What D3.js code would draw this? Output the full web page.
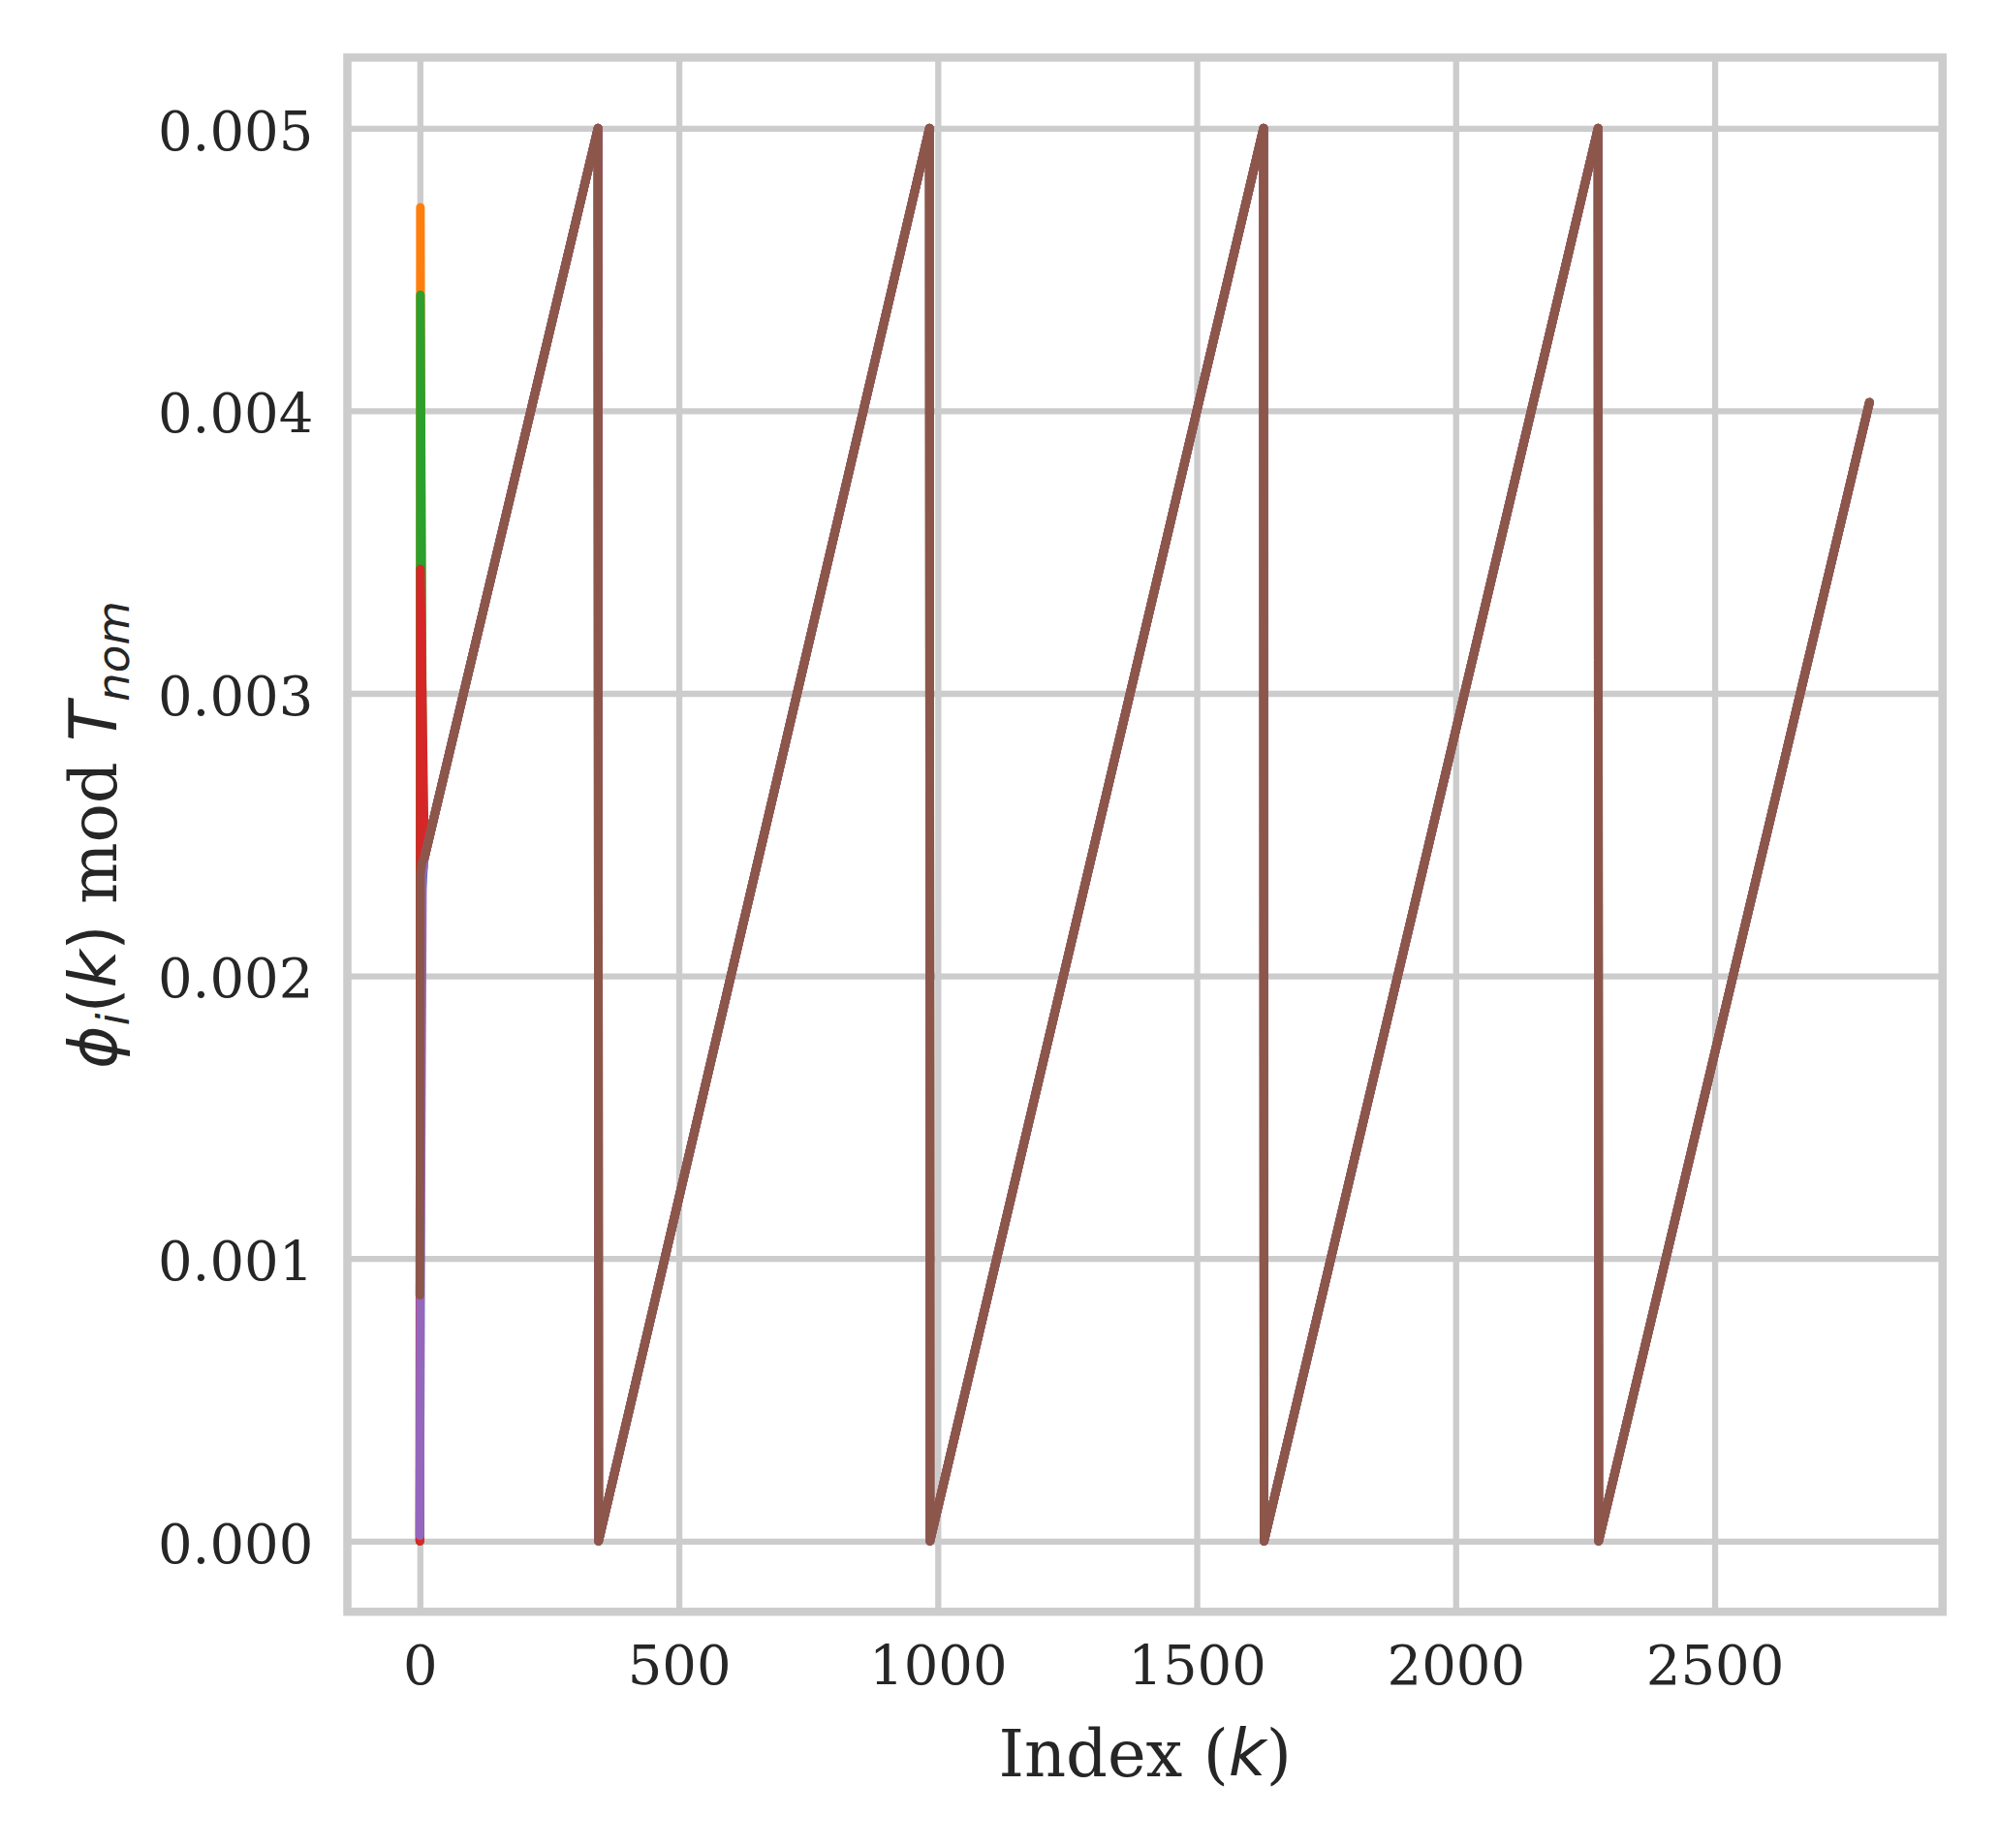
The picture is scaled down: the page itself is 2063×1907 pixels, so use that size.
<!DOCTYPE html>
<html>
<head>
<meta charset="utf-8">
<script src="https://cdn.jsdelivr.net/npm/d3@7"></script>
<style>
  html, body { margin: 0; padding: 0; background: #ffffff; }
  svg { display: block; }
</style>
</head>
<body>
<svg id="chart" width="2063" height="1907"></svg>
<script>
// ---------------- data ----------------
const seriesNames = ["node 1", "node 2", "node 3", "node 4", "node 5", "node 6"];
const seriesColors = ["#1f77b4", "#ff7f0e", "#2ca02c", "#d62728", "#9467bd", "#8c564b"];

// start-up transient of every series (index k, phase value)
const blueK   = [0, 2, 8];       const blueV   = [0.00000, 0.00225, 0.00241];
const orangeK = [0, 1, 4];       const orangeV = [0.00000, 0.00472, 0.00242];
const greenK  = [0, 1, 6];       const greenV  = [0.00000, 0.00441, 0.00242];
const redK    = [0, 1];          const redV    = [0.00000, 0.00344];
const purpleK = [0, 1, 5];       const purpleV = [0.00002, 0.00088, 0.00236];
const brownK  = [0, 1, 4];       const brownV  = [0.00087, 0.00236, 0.00240];

// common sawtooth once all phases agree (vertices)
const commonK = [9, 344, 345, 984, 985, 1629, 1630, 2275, 2276, 2799];
const commonV = [0.00242, 0.00500, 0.00000, 0.00500, 0.00000, 0.00500, 0.00000, 0.00500, 0.00000, 0.00403];

const xTicks = [0, 500, 1000, 1500, 2000, 2500];
const yTicks = [0.000, 0.001, 0.002, 0.003, 0.004, 0.005];

// ---------------- build ----------------
const startK = [blueK, orangeK, greenK, redK, purpleK, brownK];
const startV = [blueV, orangeV, greenV, redV, purpleV, brownV];
const series = seriesNames.map((name, i) => {
  const pts = startK[i].map((k, j) => ({k: k, v: startV[i][j]}));
  commonK.forEach((k, j) => pts.push({k: k, v: commonV[j]}));
  return {name: name, color: seriesColors[i], pts: pts};
});

const svg = d3.select("#chart");
svg.append("rect").attr("width", 2063).attr("height", 1907).attr("fill", "#ffffff");

const L = 358.5, R = 2004.7, T = 59.4, B = 1663.2;
const x = d3.scaleLinear().domain([-140, 2940]).range([L, R]);
const y = d3.scaleLinear().domain([-0.00025, 0.00525]).range([B, T]);

const textColor = "#262626";
const tickFont = "'DejaVu Serif', serif";
const tickSize = 56;
const labelSize = 67;

// grid + tick labels via axes
const gx = svg.append("g").attr("transform", `translate(0,${B})`)
  .call(d3.axisBottom(x).tickValues(xTicks).tickSize(-(B - T)).tickFormat(d3.format("d")));
gx.select(".domain").remove();
gx.selectAll(".tick line").attr("stroke", "#cccccc").attr("stroke-width", 6.3);
gx.selectAll(".tick text")
  .attr("y", 0).attr("dy", null)
  .attr("transform", `translate(0,${1738.3 - B})`)
  .attr("fill", textColor).attr("font-family", tickFont).attr("font-size", tickSize);

const gy = svg.append("g").attr("transform", `translate(${L},0)`)
  .call(d3.axisLeft(y).tickValues(yTicks).tickSize(-(R - L)).tickFormat(d3.format(".3f")));
gy.select(".domain").remove();
gy.selectAll(".tick line").attr("stroke", "#cccccc").attr("stroke-width", 6.3);
gy.selectAll(".tick text")
  .attr("x", 323.3 - L).attr("dy", "0.39em")
  .attr("text-anchor", "end")
  .attr("fill", textColor).attr("font-family", tickFont).attr("font-size", tickSize);

// clip for data lines
svg.append("clipPath").attr("id", "plotclip")
  .append("rect").attr("x", L).attr("y", T).attr("width", R - L).attr("height", B - T);

const line = d3.line().x(d => x(d.k)).y(d => y(d.v));
svg.append("g").attr("clip-path", "url(#plotclip)")
  .selectAll("path").data(series).join("path")
  .attr("d", d => line(d.pts))
  .attr("fill", "none")
  .attr("stroke", d => d.color)
  .attr("stroke-width", 9)
  .attr("stroke-linejoin", "round")
  .attr("stroke-linecap", "round");

// frame
svg.append("rect")
  .attr("x", L).attr("y", T).attr("width", R - L).attr("height", B - T)
  .attr("fill", "none").attr("stroke", "#cccccc").attr("stroke-width", 8.5);

// x label: Index (k)
const xl = svg.append("text")
  .attr("x", (L + R) / 2).attr("y", 1832.7)
  .attr("text-anchor", "middle")
  .attr("fill", textColor).attr("font-size", labelSize)
  .attr("font-family", tickFont);
xl.append("tspan").text("Index (");
xl.append("tspan").attr("font-family", "'DejaVu Sans', sans-serif").attr("font-style", "italic").text("k");
xl.append("tspan").text(")");

// y label: phi_i(k) mod T_nom
const yl = svg.append("text")
  .attr("transform", `translate(120,${(T + B) / 2}) rotate(-90)`)
  .attr("text-anchor", "middle")
  .attr("fill", textColor).attr("font-size", labelSize)
  .attr("font-family", tickFont);
const sans = "'DejaVu Sans', sans-serif";
yl.append("tspan").attr("font-family", sans).attr("font-style", "italic").text("\u03D5");
yl.append("tspan").attr("font-family", sans).attr("font-style", "italic")
  .attr("font-size", labelSize * 0.7).attr("dy", labelSize * 0.2).text("i");
yl.append("tspan").attr("font-family", sans).attr("dy", -labelSize * 0.2).text("(");
yl.append("tspan").attr("font-family", sans).attr("font-style", "italic").text("k");
yl.append("tspan").attr("font-family", sans).text(")");
yl.append("tspan").text(" mod ");
yl.append("tspan").attr("font-family", sans).attr("font-style", "italic").text("T");
yl.append("tspan").attr("font-family", sans).attr("font-style", "italic")
  .attr("font-size", labelSize * 0.7).attr("dy", labelSize * 0.2).text("nom");
</script>
</body>
</html>
